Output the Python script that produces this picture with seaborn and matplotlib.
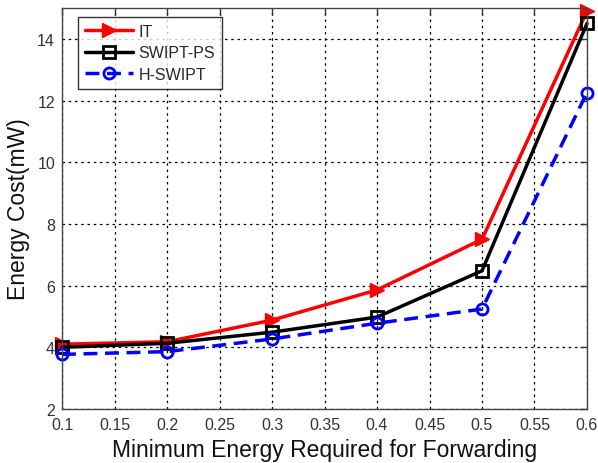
import matplotlib
matplotlib.use("Agg")
import matplotlib.pyplot as plt
import seaborn as sns
import pandas as pd

# Minimum energy required for forwarding (x axis)
energy_req = [0.1, 0.2, 0.3, 0.4, 0.5, 0.6]

# Energy cost (mW) per scheme
cost_it = [4.1, 4.18, 4.88, 5.86, 7.5, 14.9]
cost_swipt_ps = [4.0, 4.13, 4.49, 4.98, 6.48, 14.5]
cost_h_swipt = [3.77, 3.86, 4.27, 4.78, 5.24, 12.26]

series_names = ["IT", "SWIPT-PS", "H-SWIPT"]
x_ticks = [0.1, 0.15, 0.2, 0.25, 0.3, 0.35, 0.4, 0.45, 0.5, 0.55, 0.6]
x_tick_labels = ["0.1", "0.15", "0.2", "0.25", "0.3", "0.35", "0.4", "0.45", "0.5", "0.55", "0.6"]
y_ticks = [2, 4, 6, 8, 10, 12, 14]

sns.set_style("white")
plt.rcParams["font.family"] = ["Liberation Sans", "DejaVu Sans"]

df = pd.DataFrame({
    "x": energy_req * 3,
    "cost": cost_it + cost_swipt_ps + cost_h_swipt,
    "scheme": [series_names[0]] * 6 + [series_names[1]] * 6 + [series_names[2]] * 6,
})

fig = plt.figure(figsize=(5.98, 4.64), dpi=100)
ax = fig.add_axes([0.1037, 0.1164, 0.8779, 0.8642])

styles = {
    "IT": dict(color="#ff0000", marker=">", linestyle="-", markersize=10,
               markerfacecolor="#ff0000", markeredgecolor="#ff0000", markeredgewidth=1),
    "SWIPT-PS": dict(color="#000000", marker="s", linestyle="-", markersize=8,
                     markerfacecolor="none", markeredgecolor="#000000", markeredgewidth=2),
    "H-SWIPT": dict(color="#0000ff", marker="o", linestyle=(0, (4, 2.2)), markersize=8,
                    markerfacecolor="none", markeredgecolor="#0000ff", markeredgewidth=2),
}

for name in series_names:
    sub = df[df["scheme"] == name]
    st = styles[name]
    sns.lineplot(data=sub, x="x", y="cost", ax=ax, label=name, linewidth=2.5,
                 color=st["color"], marker=st["marker"], markersize=st["markersize"],
                 markerfacecolor=st["markerfacecolor"], markeredgecolor=st["markeredgecolor"],
                 markeredgewidth=st["markeredgewidth"], clip_on=False)
    ax.lines[-1].set_linestyle(st["linestyle"])

ax.set_xlim(0.1, 0.6)
ax.set_ylim(2, 15)
ax.set_xticks(x_ticks)
ax.set_xticklabels(x_tick_labels)
ax.set_yticks(y_ticks)

ax.grid(True, linestyle=(0, (2, 3)), color="#000000", linewidth=0.9)
ax.tick_params(direction="in", length=5, width=1, colors="#333333", labelsize=11.5,
               top=True, right=True, labelcolor="#333333")
ax.tick_params(axis="x", pad=6)
ax.tick_params(axis="y", pad=5)
for sp in ax.spines.values():
    sp.set_color("#444444")
    sp.set_linewidth(1)

ax.set_xlabel("Minimum Energy Required for Forwarding", fontsize=16.5, color="#111111", labelpad=4)
ax.set_ylabel("Energy Cost(mW)", fontsize=16.5, color="#111111", labelpad=5)

leg = ax.legend(loc="upper left", bbox_to_anchor=(0.03, 0.978), fontsize=11.5, frameon=True,
                fancybox=False, edgecolor="#000000", handlelength=3.0, handletextpad=0.35,
                borderpad=0.45, labelspacing=0.4, borderaxespad=0)
leg.get_frame().set_linewidth(1)
for line in leg.get_lines():
    line.set_linewidth(2.5)

fig.savefig("out.png", dpi=100)
